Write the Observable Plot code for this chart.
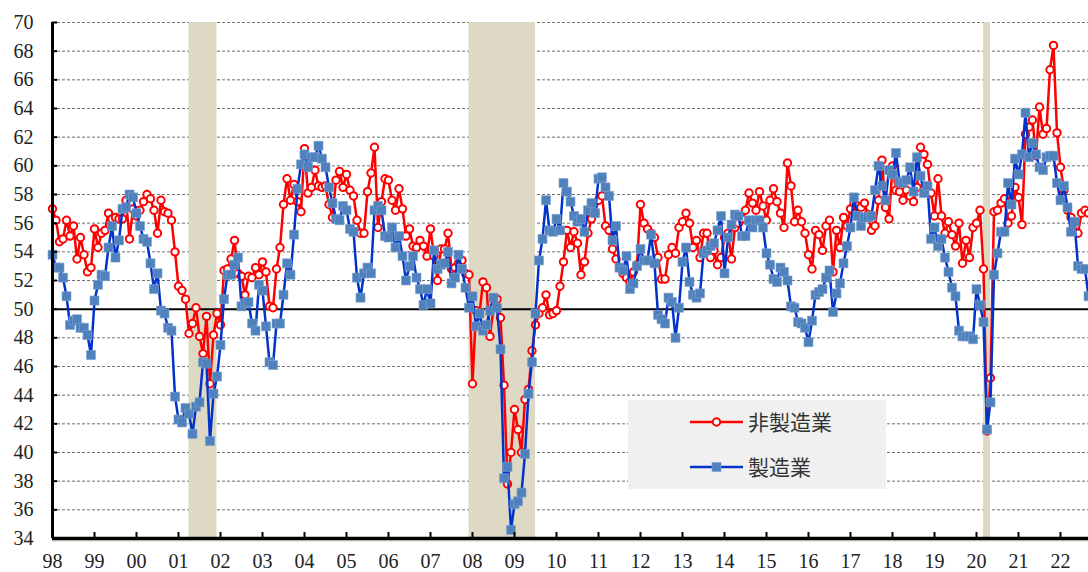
<!DOCTYPE html>
<html>
<head>
<meta charset="utf-8">
<script src="https://cdn.jsdelivr.net/npm/d3@7"></script>
<script src="https://cdn.jsdelivr.net/npm/@observablehq/plot@0.6"></script>
<style>
html, body { margin: 0; padding: 0; background: #ffffff; }
#chart { width: 1088px; height: 572px; }
</style>
</head>
<body>
<div id="chart"></div>
<script>
// ---- data (monthly, Jan 1998 – Sep 2022) ----
const startYear = 1998;
const yearLabels = ["98","99","00","01","02","03","04","05","06","07","08","09","10","11","12","13","14","15","16","17","18","19","20","21","22"];
const seriesNames = ["非製造業", "製造業"];

const nonManufacturing = [
  57.0,56.2,54.7,54.9,56.2,55.1,55.8,53.5,55.0,53.8,52.6,52.9, // 1998
  55.6,54.3,55.3,55.5,56.7,56.3,56.4,56.3,56.3,57.6,54.9,57.0, // 1999
  56.5,56.9,57.5,58.0,57.7,56.9,55.3,57.6,56.8,56.7,56.2,54.0, // 2000
  51.6,51.3,50.7,48.3,49.0,50.1,48.1,46.9,49.5,44.8,48.2,49.7, // 2001
  48.9,52.7,52.8,53.5,54.8,52.5,52.3,51.0,52.3,52.2,52.9,52.4, // 2002
  53.3,52.6,50.2,50.1,52.8,54.3,57.3,59.1,57.6,58.7,57.5,56.8, // 2003
  61.2,58.1,58.5,59.7,58.6,58.5,58.6,57.3,56.4,59.0,59.6,58.5, // 2004
  59.4,58.3,57.9,56.2,55.3,55.3,58.2,59.5,61.3,55.7,57.5,59.1, // 2005
  59.0,57.6,56.9,58.4,57.0,55.1,55.6,54.4,54.3,54.8,54.4,53.7, // 2006
  55.6,53.7,52.0,54.2,54.2,55.3,52.8,52.9,53.2,53.4,52.5,52.4, // 2007
  44.8,49.9,49.7,51.9,51.5,48.1,50.1,50.7,49.4,44.7,37.8,40.0, // 2008
  43.0,41.6,40.0,43.7,44.4,47.1,48.9,49.7,50.1,51.0,49.6,49.7, // 2009
  49.9,51.6,53.3,55.5,54.3,55.4,54.6,52.4,53.3,55.3,56.3,56.7, // 2010
  57.6,57.9,55.8,55.5,54.2,53.5,52.9,52.5,52.2,51.9,52.6,53.1, // 2011
  57.3,56.0,55.6,55.3,55.0,53.6,52.1,52.1,53.8,54.3,53.9,55.7, // 2012
  56.1,56.7,56.0,54.3,54.8,53.6,55.3,55.3,53.6,54.1,53.1,53.6, // 2013
  55.0,55.3,53.5,55.7,56.0,56.3,56.9,58.1,57.4,56.9,58.2,57.2, // 2014
  56.2,57.6,58.4,57.5,56.7,55.7,60.2,58.6,56.1,56.9,56.1,55.3, // 2015
  53.8,52.8,55.5,55.2,54.1,55.8,56.2,52.6,55.5,54.3,56.4,55.8, // 2016
  57.0,57.4,57.2,57.1,57.4,56.6,55.5,55.8,57.6,60.4,57.1,56.3, // 2017
  60.0,58.3,58.2,57.6,58.3,57.9,57.5,58.5,61.3,60.8,60.1,58.1, // 2018
  56.5,59.1,56.5,55.3,56.1,55.2,54.4,56.0,53.2,54.8,53.6,55.7, // 2019
  56.0,56.9,52.8,41.5,45.2,56.8,56.9,57.4,57.7,56.0,56.5,58.5, // 2020
  57.8,55.9,62.2,62.7,63.2,60.7,64.1,62.2,62.6,66.7,68.4,62.3, // 2021
  59.9,58.3,56.9,56.4,55.4,55.3,56.7,56.9,56.7                 // 2022
];

const manufacturing = [
  53.8,52.9,52.9,52.2,50.9,48.9,49.2,49.3,48.7,48.7,48.2,46.8, // 1998
  50.6,51.7,52.4,52.3,54.3,55.8,53.6,54.8,57.0,57.1,58.0,57.8, // 1999
  56.7,55.8,54.9,54.7,53.2,51.4,52.5,49.9,49.7,48.7,48.5,43.9, // 2000
  42.3,42.1,43.1,42.7,41.3,43.2,43.5,46.3,46.2,40.8,44.1,45.3, // 2001
  47.5,50.7,52.4,52.4,53.1,53.6,50.2,50.4,50.5,49.0,48.5,51.7, // 2002
  51.3,48.8,46.3,46.1,49.0,49.0,51.0,53.2,52.4,55.2,58.4,60.1, // 2003
  60.8,59.9,60.6,60.6,61.4,60.5,59.9,58.5,57.4,56.3,56.2,57.2, // 2004
  56.9,55.6,55.4,52.2,50.8,52.5,52.9,52.5,56.9,57.2,56.9,55.1, // 2005
  55.0,55.7,54.3,55.1,53.7,52.0,53.0,53.7,52.2,51.4,50.3,51.4, // 2006
  50.4,54.1,52.8,53.1,53.2,54.0,51.8,52.2,53.8,52.8,51.5,50.1, // 2007
  50.9,48.8,49.7,48.5,48.9,49.9,50.8,50.1,47.2,38.2,39.0,34.6, // 2008
  36.4,36.6,37.2,39.9,44.1,46.3,49.7,53.4,54.9,57.6,55.5,55.4, // 2009
  56.3,55.5,58.8,58.2,57.5,56.5,56.1,56.3,55.4,56.9,57.4,56.7, // 2010
  59.1,59.2,58.5,57.9,54.8,55.8,52.9,52.7,53.7,51.4,51.8,53.0, // 2011
  54.2,53.4,53.4,55.2,53.2,49.6,49.3,49.0,50.8,50.5,48.0,50.1, // 2012
  53.3,54.3,51.9,51.0,50.8,51.1,53.9,54.1,54.4,54.6,55.5,56.5, // 2013
  52.5,55.0,55.9,56.6,56.5,55.1,55.1,56.2,55.7,56.2,56.2,55.7, // 2014
  53.9,53.1,52.1,51.9,52.9,52.6,52.0,50.2,50.1,49.1,49.0,48.7, // 2015
  47.7,49.2,51.0,51.2,51.4,52.2,52.7,49.8,51.1,51.8,53.2,54.4, // 2016
  55.7,57.8,56.5,55.8,56.4,56.4,56.5,58.3,60.0,58.6,57.6,59.7, // 2017
  59.4,60.9,58.9,58.8,59.0,59.9,58.2,60.6,59.3,58.1,58.6,54.9, // 2018
  55.7,54.4,54.9,53.6,52.6,51.5,50.9,48.5,48.1,48.1,48.1,47.9, // 2019
  51.4,50.3,49.1,41.6,43.5,52.4,53.9,55.4,55.4,58.8,57.3,60.5, // 2020
  59.4,60.8,63.7,60.6,61.6,60.8,59.9,59.7,60.6,60.7,60.7,58.8, // 2021
  57.6,58.6,57.1,55.4,56.1,53.0,52.8,52.8,50.9                 // 2022
];

// recession periods (first month, last month)
const recessionStart = ["2001-04", "2007-12", "2020-03"];
const recessionEnd   = ["2001-11", "2009-06", "2020-04"];

const yTicks = d3.range(34, 71, 2);

// ---- helpers ----
const monthIndex = s => { const [y, m] = s.split("-").map(Number); return (y - startYear) * 12 + (m - 1); };
const toRows = (arr, name) => arr.map((v, i) => ({ i, v, name }));
const nmRows = toRows(nonManufacturing, seriesNames[0]);
const mfRows = toRows(manufacturing, seriesNames[1]);
const recRows = recessionStart.map((s, k) => ({ x1: monthIndex(s), x2: monthIndex(recessionEnd[k]) + 1 }));
const lastIndex = manufacturing.length - 1;
const yearTicks = yearLabels.map((_, k) => k * 12);

const RED = "#ff0000", BLUE_LINE = "#0033cc", BLUE_FILL = "#4f81bd", BAND = "#ddd9c4";
const W = 1088, H = 572, ML = 52, MR = 0, MT = 22, MB = 34;
const yMin = 34, yMax = 70;
const SERIF = "Liberation Serif";
// pixel-to-data conversions for tick stub lengths
const pxPerMonth = (W - ML - MR) / lastIndex;
const pxPerUnit = (H - MT - MB) / (yMax - yMin);

const chart = Plot.plot({
  width: W,
  height: H,
  marginLeft: ML,
  marginRight: MR,
  marginTop: MT,
  marginBottom: MB,
  style: { fontSize: "20px", color: "#222", background: "#fff", overflow: "visible" },
  x: { type: "linear", domain: [0, lastIndex], axis: null },
  y: { type: "linear", domain: [yMin, yMax], axis: null },
  marks: [
    // dotted gridlines
    Plot.ruleY(yTicks.filter(t => t !== yMin && t !== 50), { stroke: "#6e6e6e", strokeWidth: 1, strokeDasharray: "3,2" }),
    // recession bands
    Plot.rect(recRows, { x1: "x1", x2: "x2", y1: yMin, y2: yMax, fill: BAND }),
    // faint band-coloured strip just under the axis
    Plot.ruleY([yMin], { dy: 2.5, stroke: BAND, strokeWidth: 1.2 }),
    // 50 line
    Plot.ruleY([50], { stroke: "#000", strokeWidth: 2 }),
    // non-manufacturing
    Plot.line(nmRows, { x: "i", y: "v", stroke: RED, strokeWidth: 2.5 }),
    Plot.dot(nmRows, { x: "i", y: "v", r: 3.7, fill: "#fff", stroke: RED, strokeWidth: 2 }),
    // manufacturing
    Plot.line(mfRows, { x: "i", y: "v", stroke: BLUE_LINE, strokeWidth: 2.5 }),
    Plot.dot(mfRows, { x: "i", y: "v", symbol: "square", r: 5.1, fill: BLUE_FILL, stroke: "#7fa2cf", strokeWidth: 0.6 }),
    // axis lines
    Plot.ruleX([0], { stroke: "#000", strokeWidth: 3 }),
    Plot.ruleY([yMin], { stroke: "#000", strokeWidth: 3.5 }),
    // inward tick stubs
    Plot.ruleY(yTicks, { x1: 0, x2: 5 / pxPerMonth, stroke: "#000", strokeWidth: 2 }),
    Plot.ruleX(yearTicks, { y1: yMin, y2: yMin + 6 / pxPerUnit, stroke: "#000", strokeWidth: 2 }),
    // tick labels
    Plot.text(yTicks, { x: 0, y: d => d, text: d => String(d), textAnchor: "end", dx: -19, fontSize: 20, fontFamily: SERIF, fill: "#222" }),
    Plot.text(yearTicks, { x: d => d, y: yMin, text: d => yearLabels[d / 12], dy: 23.5, fontSize: 20, fontFamily: SERIF, fill: "#222" })
  ]
});

document.getElementById("chart").appendChild(chart);
const svg = d3.select(chart);

// ---- legend (inside plot area) ----
const lg = svg.append("g").attr("class", "legend");
lg.append("rect").attr("x", 628).attr("y", 400).attr("width", 258).attr("height", 89).attr("fill", "#f0f0f0");
const items = [
  { name: seriesNames[0], y: 422, kind: "circle" },
  { name: seriesNames[1], y: 467, kind: "square" }
];
items.forEach(it => {
  const color = it.kind === "circle" ? RED : BLUE_LINE;
  lg.append("line").attr("x1", 690).attr("x2", 743).attr("y1", it.y).attr("y2", it.y)
    .attr("stroke", color).attr("stroke-width", 2.5);
  if (it.kind === "circle") {
    lg.append("circle").attr("cx", 716.5).attr("cy", it.y).attr("r", 3.7)
      .attr("fill", "#fff").attr("stroke", RED).attr("stroke-width", 2);
  } else {
    lg.append("rect").attr("x", 712).attr("y", it.y - 4.5).attr("width", 9).attr("height", 9)
      .attr("fill", BLUE_FILL).attr("stroke", "#7fa2cf").attr("stroke-width", 0.6);
  }
  lg.append("text").attr("x", 748).attr("y", it.y).attr("dy", "0.36em")
    .attr("text-anchor", "start")
    .attr("font-family", "Noto Sans CJK JP").attr("font-size", 21)
    .attr("fill", "#333").text(it.name);
});
</script>
</body>
</html>
